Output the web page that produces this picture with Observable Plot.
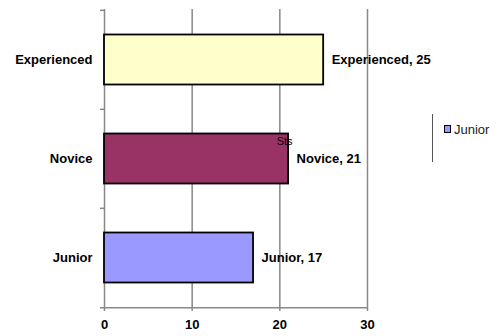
<!DOCTYPE html>
<html><head><meta charset="utf-8">
<script src="https://cdn.jsdelivr.net/npm/d3@7"></script>
<script src="https://cdn.jsdelivr.net/npm/@observablehq/plot@0.6"></script>
<style>
html,body{margin:0;padding:0;background:#fff;}
#wrap{position:relative;width:499px;height:336px;overflow:hidden;}
#wrap svg{position:absolute;left:0;top:0;}
.legend{position:absolute;left:432px;top:114px;width:70px;height:48px;border-left:1.5px solid #555;font:13px "Liberation Sans",Arial,sans-serif;color:#222;}
.legend .item{position:absolute;left:11px;top:8px;white-space:nowrap;}
.legend .sw{display:inline-block;width:5px;height:6px;border:1px solid #000;margin-right:3px;vertical-align:1px;}
</style></head><body><div id="wrap"></div>
<script>
const categories = ["Experienced", "Novice", "Junior"];
const values = [25, 21, 17];
const colors = ["#FFFFCC", "#993366", "#9999FF"];
const xTicks = [0, 10, 20, 30];
const legendLabels = ["Junior"];
const legendColors = ["#9999FF"];
const strayLabel = ["Sts"];

const data = categories.map((c, i) => ({category: c, value: values[i]}));

const W = 499, H = 336, mL = 104, mR = 132, mT = 9, mB = 29;
const bw = (H - mT - mB) / categories.length;
const font = {fontFamily: "'Liberation Sans', Arial, sans-serif"};

const chart = Plot.plot({
  width: W, height: H,
  marginLeft: mL, marginRight: mR, marginTop: mT, marginBottom: mB,
  style: {background: "transparent", ...font},
  x: {domain: [0, 30], axis: null},
  y: {domain: categories, padding: 0, axis: null},
  color: {domain: categories, range: colors},
  marks: [
    Plot.ruleX(xTicks.slice(1), {stroke: "#888", strokeWidth: 1.5}),
    Plot.ruleX([0], {stroke: "#888", strokeWidth: 1.5}),
    Plot.ruleY(categories, {y: d => d, x1: 0, x2: 0, insetLeft: -4, dy: -bw / 2, stroke: "#888", strokeWidth: 1.5}),
    Plot.ruleY([categories[categories.length - 1]], {y: d => d, x1: 0, x2: 30, insetLeft: -4, dy: bw / 2, stroke: "#888", strokeWidth: 1.5}),
    Plot.barX(data, {x: "value", y: "category", fill: "category", stroke: "#000", strokeWidth: 1.8, insetTop: 24.5, insetBottom: 24.5}),
    Plot.text(data, {x: "value", y: "category", text: d => `${d.category}, ${d.value}`, dx: 8, textAnchor: "start", fontWeight: "bold", fontSize: 13, fill: "#000"}),
    Plot.text(data.filter(d => d.category === "Novice"), {x: "value", y: "category", text: () => strayLabel[0], dx: -4, dy: -18, fontSize: 11, fill: "#000"}),
    Plot.axisX(xTicks, {tickSize: 4, tickPadding: 8, stroke: "#888", strokeWidth: 1.5, fill: "#000", fontWeight: "bold", fontSize: 13, label: null}),
    Plot.axisY({tickSize: 0, tickPadding: 12, fill: "#000", fontWeight: "bold", fontSize: 13, label: null})
  ]
});

const wrap = document.getElementById("wrap");
wrap.appendChild(chart);
const lg = document.createElement("div");
lg.className = "legend";
legendLabels.forEach((l, i) => {
  const it = document.createElement("div");
  it.className = "item";
  const sw = document.createElement("span");
  sw.className = "sw";
  sw.style.background = legendColors[i];
  it.appendChild(sw);
  it.appendChild(document.createTextNode(l));
  lg.appendChild(it);
});
wrap.appendChild(lg);
</script>
</body></html>
